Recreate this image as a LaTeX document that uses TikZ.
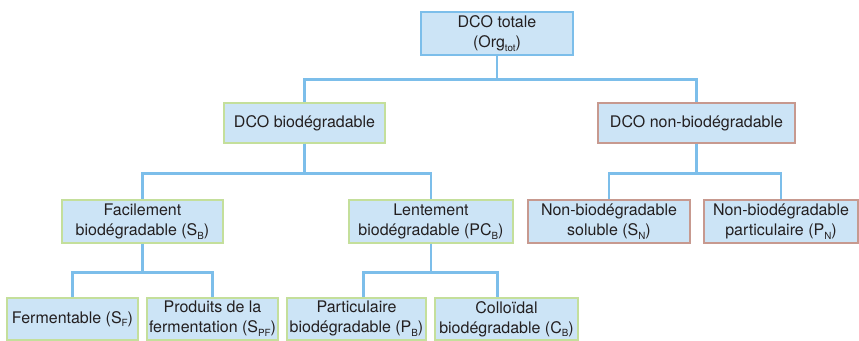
\documentclass[tikz,border=0pt]{standalone}
\usepackage{fontspec}
\setmainfont{TeX Gyre Heros}
\usepackage{xcolor}
\usepackage{tikz}
\usetikzlibrary{positioning,calc}

\definecolor{boxfill}{HTML}{CCE4F6}
\definecolor{lineblue}{HTML}{7CBEEA}
\definecolor{bordergreen}{HTML}{C4DF9B}
\definecolor{borderred}{HTML}{C7998F}
\definecolor{txt}{HTML}{231F20}
\newcommand{\idx}[1]{\raisebox{-0.45ex}{\fontsize{5.6pt}{6pt}\selectfont #1}}

\begin{document}
\begin{tikzpicture}[
  x=0.02cm, y=-0.02cm,
  font=\fontsize{9.1pt}{11.4pt}\selectfont, text=txt,
  box/.style={draw=lineblue, fill=boxfill, line width=0.8pt, align=center, inner sep=0pt, minimum height=0.86cm},
  biobox/.style={box, draw=bordergreen},
  nbbox/.style={box, draw=borderred},
  link/.style={draw=lineblue, line width=1.4pt}
]
\useasboundingbox (0,0) rectangle (859,341);
% niveau 1
\node[box, minimum width=3.04cm] (tot) at (497,33.5) {DCO totale\\(Org\idx{tot})};
% niveau 2
\node[biobox, minimum width=3.22cm, minimum height=0.8cm] (bio) at (304.5,123) {DCO biodégradable};
\node[nbbox, minimum width=3.94cm, minimum height=0.8cm] (nbio) at (696.5,123) {DCO non-biodégradable};
% niveau 3
\node[biobox, minimum width=3.22cm] (sb) at (142.5,221.5) {Facilement\\biodégradable (S\idx{B})};
\node[biobox, minimum width=3.28cm] (pcb) at (431,221.5) {Lentement\\biodégradable (PC\idx{B})};
\node[nbbox, minimum width=3.24cm] (sn) at (609,221.5) {Non-biodégradable\\soluble (S\idx{N})};
\node[nbbox, minimum width=3.08cm] (pn) at (781,221.5) {Non-biodégradable\\particulaire (P\idx{N})};
% niveau 4
\node[biobox, minimum width=2.62cm, minimum height=0.84cm] (sf) at (72.5,319) {Fermentable (S\idx{F})};
\node[biobox, minimum width=2.62cm, minimum height=0.84cm] (spf) at (212.5,319) {Produits de la\\fermentation (S\idx{PF})};
\node[biobox, minimum width=2.78cm, minimum height=0.84cm] (pb) at (356.5,319) {Particulaire\\biodégradable (P\idx{B})};
\node[biobox, minimum width=2.86cm, minimum height=0.84cm] (cb) at (506.5,319) {Colloïdal\\biodégradable (C\idx{B})};
% liaisons
\draw[link] (tot.south) -- ++(0,24) -| (bio.north);
\draw[link] (tot.south) -- ++(0,24) -| (nbio.north);
\draw[link] (bio.south) -- ++(0,30) -| (sb.north);
\draw[link] (bio.south) -- ++(0,30) -| (pcb.north);
\draw[link] (nbio.south) -- ++(0,30) -| (sn.north);
\draw[link] (nbio.south) -- ++(0,30) -| (pn.north);
\draw[link] (sb.south) -- ++(0,29) -| (sf.north);
\draw[link] (sb.south) -- ++(0,29) -| (spf.north);
\draw[link] (pcb.south) -- ++(0,29) -| ([xshift=4]pb.north);
\draw[link] (pcb.south) -- ++(0,29) -| ([xshift=-5]cb.north);
\end{tikzpicture}
\end{document}
